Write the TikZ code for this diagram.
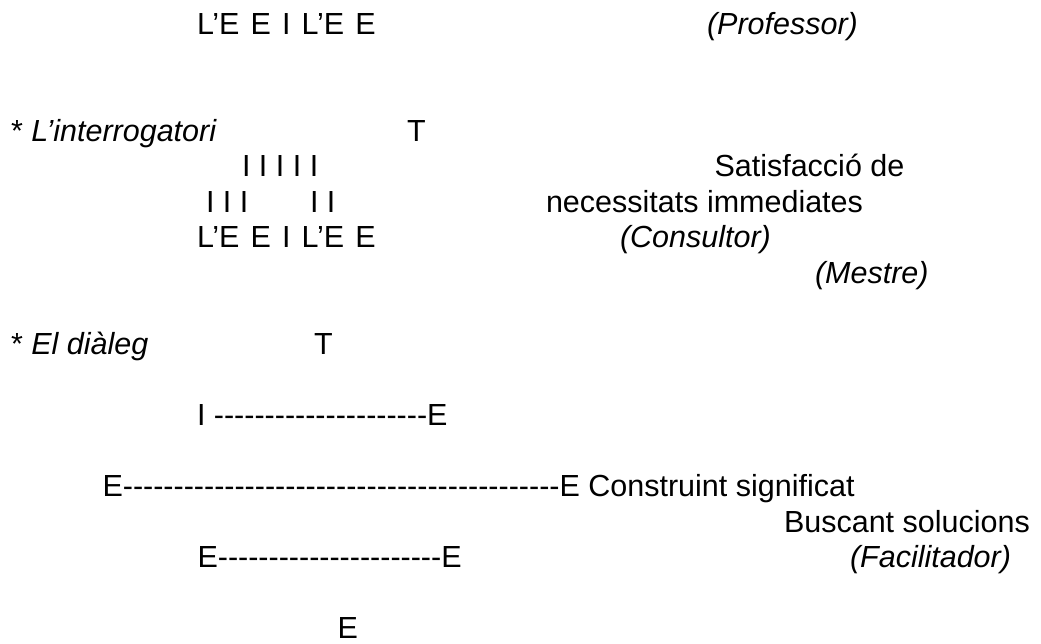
\documentclass[tikz,border=0pt]{standalone}
\usepackage{fontspec}
\setmainfont{Liberation Sans}
\ExplSyntaxOn
\NewDocumentCommand\hyphs{m}{\prg_replicate:nn{#1}{-\kern0pt}}
\ExplSyntaxOff
\newcommand\leeil{L’E\hspace{2.7pt} E\hspace{2.7pt} I\hspace{2.7pt} L’E\hspace{2.7pt} E}
\begin{document}
\begin{tikzpicture}[x=1pt,y=-1pt,
  txt/.style={anchor=base west,inner sep=0pt,outer sep=0pt,font=\fontsize{30.5}{35.5}\selectfont},
  ittxt/.style={txt,font=\fontsize{30.5}{35.5}\selectfont\itshape}]
\useasboundingbox (0,0) rectangle (1041,644);
% first block
\node[txt]   (row1) at (197,35) {\leeil};
\node[ittxt] (prof) at (707,35) {(Professor)};
% interrogatori
\node[txt]   (intl) at (11,141.5) {* \textit{L’interrogatori}};
\node[txt]   (tone) at (407,141.5) {T};
\node[txt]   (ifive) at (242,177) {I I I I I};
\node[txt]   (satis) at (714.5,177) {Satisfacció de};
\node[txt]   (ithree) at (206,212.5) {I I I};
\node[txt]   (itwo) at (310,212.5) {I I};
\node[txt]   (neces) at (546,212.5) {necessitats immediates};
\node[txt]   (row2) at (197,248) {\leeil};
\node[ittxt] (cons) at (620,248) {(Consultor)};
\node[ittxt] (mest) at (815,283.5) {(Mestre)};
% dialeg
\node[txt]   (dial) at (11,354.5) {* \textit{El diàleg}};
\node[txt]   (ttwo) at (314,354.5) {T};
\node[txt]   (lone) at (197,425.5) {I \hyphs{21}E};
\node[txt]   (ltwo) at (102.5,496.5) {E\hyphs{43}E Construint significat};
\node[txt]   (busc) at (784,532) {Buscant solucions};
\node[txt]   (lthree) at (197.5,567.5) {E\hyphs{22}E};
\node[ittxt] (faci) at (850,567.5) {(Facilitador)};
\node[txt]   (elast) at (337.5,638.5) {E};
\end{tikzpicture}
\end{document}
